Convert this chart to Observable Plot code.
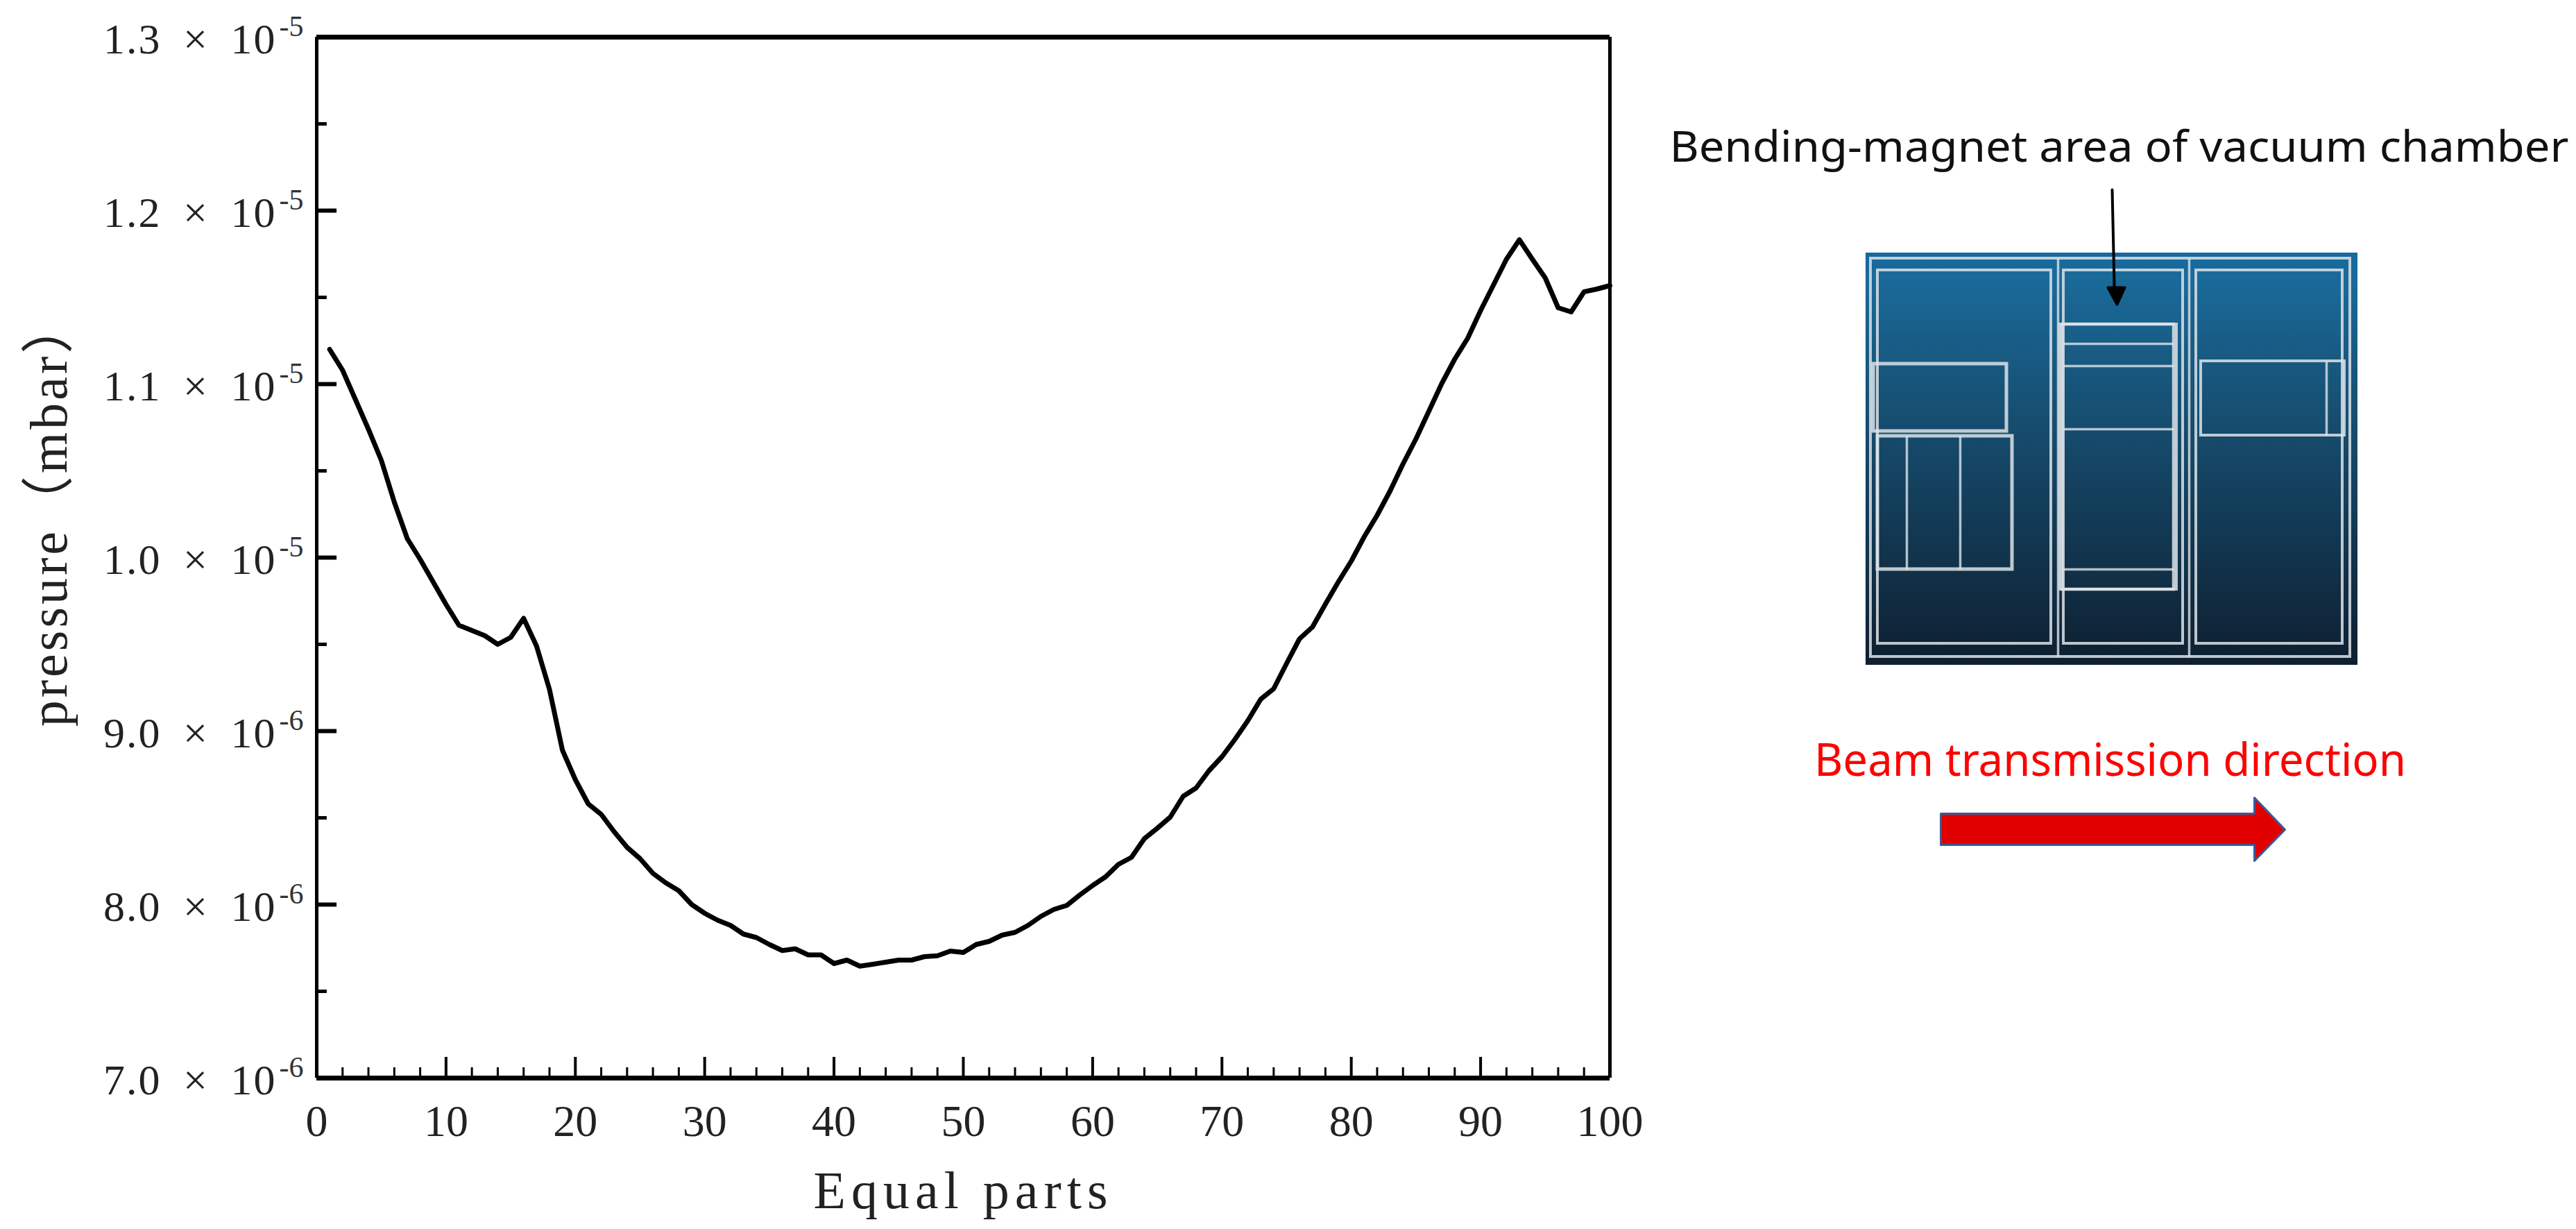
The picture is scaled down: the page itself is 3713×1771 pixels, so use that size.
<!DOCTYPE html>
<html>
<head>
<meta charset="utf-8">
<script src="https://cdn.jsdelivr.net/npm/d3@7"></script>
<script src="https://cdn.jsdelivr.net/npm/@observablehq/plot@0.6"></script>
<style>
html,body{margin:0;padding:0;background:#fff}
#page{display:flex;width:3713px;height:1771px;overflow:hidden}
#page svg{flex:none;max-width:none;display:block}
</style>
</head>
<body>
<div id="page"></div>
<script>
// Chart data: pressure in units of 1e-6 mbar
const equalParts = [1,2,3,4,5,6,7,8,9,10,11,12,13,14,15,16,17,18,19,20,21,22,23,24,25,26,27,28,29,30,31,32,33,34,35,36,37,38,39,40,41,42,43,44,45,46,47,48,49,50,51,52,53,54,55,56,57,58,59,60,61,62,63,64,65,66,67,68,69,70,71,72,73,74,75,76,77,78,79,80,81,82,83,84,85,86,87,88,89,90,91,92,93,94,95,96,97,98,99,100];
const pressure = [11.20,11.08,10.91,10.74,10.56,10.32,10.11,9.99,9.86,9.73,9.61,9.58,9.55,9.50,9.54,9.65,9.49,9.24,8.89,8.72,8.58,8.52,8.42,8.33,8.265,8.18,8.125,8.08,8.00,7.95,7.91,7.88,7.83,7.81,7.77,7.735,7.745,7.71,7.71,7.66,7.68,7.645,7.656,7.668,7.68,7.68,7.70,7.705,7.732,7.724,7.77,7.788,7.824,7.84,7.88,7.932,7.972,7.995,8.055,8.11,8.16,8.232,8.272,8.38,8.44,8.504,8.624,8.672,8.772,8.852,8.952,9.06,9.184,9.244,9.39,9.532,9.60,9.732,9.86,9.98,10.12,10.244,10.384,10.54,10.684,10.844,11.004,11.144,11.264,11.424,11.572,11.72,11.832,11.72,11.612,11.44,11.416,11.532,11.548,11.568];
const xMajorTicks = [0,10,20,30,40,50,60,70,80,90,100];
const xMinorTicks = [2,4,6,8,12,14,16,18,22,24,26,28,32,34,36,38,42,44,46,48,52,54,56,58,62,64,66,68,72,74,76,78,82,84,86,88,92,94,96,98];
const yMajorTicks = [7,8,9,10,11,12,13];
const yMinorTicks = [7.5,8.5,9.5,10.5,11.5,12.5];
const yTickText = ["7.0 × 10","8.0 × 10","9.0 × 10","1.0 × 10","1.1 × 10","1.2 × 10","1.3 × 10"];
const yTickExponent = ["-6","-6","-6","-5","-5","-5","-5"];
const xTitle = "Equal parts";
const yTitle = "pressure（mbar）";

// Schematic annotation (drawn in its own picture-space scale)
const schematicTitle = "Bending-magnet area of vacuum chamber";
const beamTitle = "Beam transmission direction";
const chamberX1 = [2689], chamberX2 = [3398], chamberY1 = [364], chamberY2 = [958];
const boxX1 = [2696,2706,2974,3165,2700,2706,2969,2972,3172];
const boxX2 = [3387,2956,3146,3376,2892,2900,3137,3133,3379];
const boxY1 = [372,389,389,389,524,628,467,467,520];
const boxY2 = [946,927,927,927,621,820,849,849,627];
const boxW  = [4,4,4,4,5,5,4,4.5,4];
const dividerX1 = [2966,3155,2748,2825,3353,2972,2972,2972,2972];
const dividerX2 = [2966,3155,2748,2825,3353,3133,3133,3133,3133];
const dividerY1 = [372,372,628,628,520,495,527,618,820];
const dividerY2 = [946,946,820,820,627,495,527,618,820];
const pointerX = [3044,3047,3047,3038,3051,3062,3047];
const pointerY = [273,410,414,414,438,414,414];
const beamArrowX = [2797,3249,3249,3293,3249,3249,2797,2797];
const beamArrowY = [1172,1172,1149,1195,1240,1217,1217,1172];

const serif = "'Liberation Serif','Noto Sans CJK SC',serif";

const chart = Plot.plot({
  width: 2400, height: 1771,
  marginLeft: 456, marginRight: 80, marginTop: 53, marginBottom: 218,
  style: {background: "#fff", fontFamily: serif, color: "#222"},
  x: {domain: [0, 100], axis: null},
  y: {domain: [7, 13], axis: null},
  marks: [
    Plot.axisX({ticks: xMajorTicks, tickSize: 0, tickPadding: 38, fontSize: 64, label: null, tickFormat: d => String(d)}),
    Plot.axisY({ticks: yMajorTicks, tickSize: 0, tickPadding: 58, fontSize: 62, dy: 4, label: null, tickFormat: d => yTickText[yMajorTicks.indexOf(d)]}),
    Plot.text(yMajorTicks, {y: d => d, text: d => yTickExponent[yMajorTicks.indexOf(d)], frameAnchor: "left", textAnchor: "start", dx: -54, dy: -15, fontSize: 42, fill: "#333"}),
    Plot.text([xTitle], {frameAnchor: "bottom", x: () => 50, dy: 163, lineAnchor: "middle", fontSize: 76, fill: "#222"}),
    Plot.text([yTitle], {frameAnchor: "left", textAnchor: "middle", y: () => 10.26, dx: -385, rotate: -90, fontSize: 76, fill: "#222"}),
    Plot.ruleX(xMajorTicks, {y1: 7, y2: 7.12, strokeWidth: 4, stroke: "#000"}),
    Plot.ruleX(xMinorTicks, {y1: 7, y2: 7.06, strokeWidth: 3, stroke: "#000"}),
    Plot.ruleY(yMajorTicks, {x1: 0, x2: 1.56, strokeWidth: 6, stroke: "#000"}),
    Plot.ruleY(yMinorTicks, {x1: 0, x2: 0.8, strokeWidth: 5, stroke: "#000"}),
    Plot.ruleX([0, 100], {y1: 7, y2: 13, strokeWidth: 5, stroke: "#000"}),
    Plot.ruleY([7, 13], {x1: 0, x2: 100, strokeWidth: 7, stroke: "#000"}),
    Plot.line(equalParts, {x: d => d, y: (d, i) => pressure[i], stroke: "#000", strokeWidth: 7, strokeLinejoin: "round"})
  ]
});

const gradientDefs = () => {
  const defs = d3.create("svg:defs");
  const g = defs.append("linearGradient").attr("id", "chamberFill").attr("x1", 0).attr("y1", 0).attr("x2", 0).attr("y2", 1);
  [[0, "#14699c"], [0.06, "#1a6a9a"], [0.35, "#175276"], [0.7, "#123650"], [1, "#0e1f30"]]
    .forEach(([o, c]) => g.append("stop").attr("offset", o).attr("stop-color", c));
  return defs.node();
};

const idx = a => d3.range(a.length);
const schematic = Plot.plot({
  width: 1313, height: 1771, margin: 0,
  style: {background: "#fff", fontFamily: "'Noto Sans','Open Sans',sans-serif"},
  x: {domain: [2400, 3713], range: [0, 1313], axis: null},
  y: {domain: [0, 1771], range: [0, 1771], axis: null},
  marks: [
    gradientDefs,
    Plot.rect(idx(chamberX1), {x1: i => chamberX1[i], x2: i => chamberX2[i], y1: i => chamberY1[i], y2: i => chamberY2[i], fill: "url(#chamberFill)"}),
    Plot.rect(idx(boxX1), {x1: i => boxX1[i], x2: i => boxX2[i], y1: i => boxY1[i], y2: i => boxY2[i], fill: "none", stroke: "#dde3e8", strokeOpacity: 0.85, strokeWidth: i => boxW[i]}),
    Plot.link(idx(dividerX1), {x1: i => dividerX1[i], x2: i => dividerX2[i], y1: i => dividerY1[i], y2: i => dividerY2[i], stroke: "#dde3e8", strokeOpacity: 0.8, strokeWidth: 3.5}),
    Plot.line(idx(pointerX), {x: i => pointerX[i], y: i => pointerY[i], stroke: "#000", strokeWidth: 4, fill: "#000"}),
    Plot.line(idx(beamArrowX), {x: i => beamArrowX[i], y: i => beamArrowY[i], stroke: "#3a5a98", strokeWidth: 3, fill: "#e00000"}),
    Plot.text([schematicTitle], {x: () => 3054, y: () => 232, lineAnchor: "bottom", fontSize: 62, fill: "#111"}),
    Plot.text([beamTitle], {x: () => 3041, y: () => 1117, lineAnchor: "bottom", fontSize: 66, fill: "#ff0000"})
  ]
});

const page = document.getElementById("page");
page.append(chart, schematic);

// Typographic fit of the labels (wide spacing of the original, narrow sans titles)
const allText = root => [...root.querySelectorAll("text")];
allText(chart).forEach(t => {
  const s = t.textContent;
  if (yTickText.includes(s)) { t.style.letterSpacing = "2px"; t.style.wordSpacing = "14px"; }
  if (s === xTitle) t.style.letterSpacing = "8px";
  if (s === yTitle) t.style.letterSpacing = "4px";
});
allText(schematic).forEach(t => {
  const s = t.textContent;
  if (s === schematicTitle) { t.setAttribute("textLength", 1296); t.setAttribute("lengthAdjust", "spacingAndGlyphs"); }
  if (s === beamTitle) { t.setAttribute("textLength", 853); t.setAttribute("lengthAdjust", "spacingAndGlyphs"); }
});
</script>
</body>
</html>
